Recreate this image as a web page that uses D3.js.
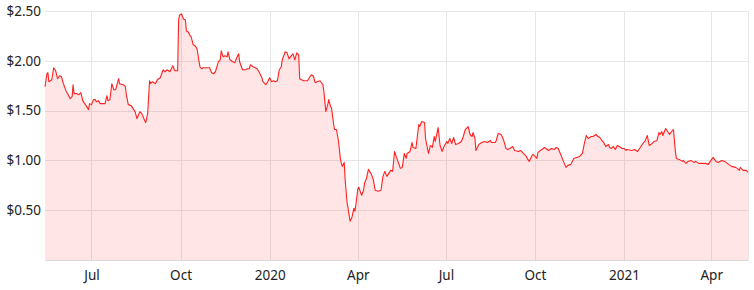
<!DOCTYPE html>
<html>
<head>
<meta charset="utf-8">
<script src="https://cdn.jsdelivr.net/npm/d3@7"></script>
<style>
  html, body { margin: 0; padding: 0; background: #fff; }
  svg { display: block; }
  text { font-family: "Noto Sans", "Open Sans", sans-serif; }
</style>
</head>
<body>
<div id="chart"></div>
<script>
// Koers over twee jaar, dagelijkse punten zoals.
const DATES = [
  '2019-05-14','2019-05-16','2019-05-17','2019-05-18','2019-05-21','2019-05-23','2019-05-25','2019-05-27','2019-05-29','2019-05-31',
  '2019-06-02','2019-06-05','2019-06-07','2019-06-09','2019-06-11','2019-06-12','2019-06-13','2019-06-16','2019-06-18','2019-06-20',
  '2019-06-22','2019-06-24','2019-06-28','2019-06-29','2019-07-01','2019-07-03','2019-07-05','2019-07-06','2019-07-08','2019-07-10',
  '2019-07-13','2019-07-15','2019-07-17','2019-07-18','2019-07-20','2019-07-22','2019-07-24','2019-07-26','2019-07-29','2019-07-30',
  '2019-08-03','2019-08-05','2019-08-06','2019-08-08','2019-08-11','2019-08-13','2019-08-15','2019-08-17','2019-08-20','2019-08-22',
  '2019-08-24','2019-08-26','2019-08-28','2019-08-30','2019-08-31','2019-09-02','2019-09-05','2019-09-07','2019-09-10','2019-09-13',
  '2019-09-15','2019-09-17','2019-09-20','2019-09-23','2019-09-25','2019-09-28','2019-09-29','2019-09-30','2019-10-02','2019-10-04',
  '2019-10-06','2019-10-07','2019-10-09','2019-10-11','2019-10-12','2019-10-14','2019-10-16','2019-10-18','2019-10-19','2019-10-21',
  '2019-10-23','2019-10-24','2019-10-28','2019-10-31','2019-11-02','2019-11-04','2019-11-06','2019-11-09','2019-11-11','2019-11-12',
  '2019-11-14','2019-11-16','2019-11-18','2019-11-19','2019-11-21','2019-11-24','2019-11-26','2019-11-28','2019-11-30','2019-12-01',
  '2019-12-04','2019-12-07','2019-12-09','2019-12-11','2019-12-12','2019-12-15','2019-12-19','2019-12-21','2019-12-24','2019-12-25',
  '2019-12-28','2019-12-30','2020-01-01','2020-01-03','2020-01-05','2020-01-07','2020-01-09','2020-01-11','2020-01-13','2020-01-14',
  '2020-01-17','2020-01-19','2020-01-21','2020-01-24','2020-01-25','2020-01-27','2020-01-29','2020-01-31','2020-02-01','2020-02-03',
  '2020-02-05','2020-02-09','2020-02-13','2020-02-15','2020-02-17','2020-02-19','2020-02-22','2020-02-25','2020-02-26','2020-02-28',
  '2020-03-01','2020-03-02','2020-03-04','2020-03-05','2020-03-07','2020-03-08','2020-03-10','2020-03-12','2020-03-14','2020-03-15',
  '2020-03-16','2020-03-18','2020-03-19','2020-03-21','2020-03-22','2020-03-24','2020-03-26','2020-03-28','2020-03-29','2020-03-30',
  '2020-04-01','2020-04-02','2020-04-05','2020-04-07','2020-04-08','2020-04-10','2020-04-12','2020-04-15','2020-04-17','2020-04-19',
  '2020-04-22','2020-04-25','2020-04-27','2020-04-29','2020-05-01','2020-05-03','2020-05-05','2020-05-07','2020-05-09','2020-05-11',
  '2020-05-15','2020-05-17','2020-05-19','2020-05-21','2020-05-22','2020-05-25','2020-05-27','2020-05-28','2020-05-31','2020-06-03',
  '2020-06-04','2020-06-06','2020-06-09','2020-06-10','2020-06-13','2020-06-15','2020-06-17','2020-06-19','2020-06-20','2020-06-23',
  '2020-06-25','2020-06-27','2020-06-29','2020-07-02','2020-07-03','2020-07-05','2020-07-07','2020-07-09','2020-07-11','2020-07-14',
  '2020-07-17','2020-07-19','2020-07-21','2020-07-24','2020-07-26','2020-07-28','2020-07-29','2020-07-31','2020-08-01','2020-08-04',
  '2020-08-07','2020-08-10','2020-08-13','2020-08-16','2020-08-17','2020-08-21','2020-08-22','2020-08-24','2020-08-27','2020-08-29',
  '2020-08-30','2020-09-01','2020-09-03','2020-09-05','2020-09-08','2020-09-10','2020-09-14','2020-09-16','2020-09-19','2020-09-22',
  '2020-09-23','2020-09-25','2020-09-28','2020-09-29','2020-10-01','2020-10-03','2020-10-04','2020-10-08','2020-10-11','2020-10-15',
  '2020-10-18','2020-10-21','2020-10-23','2020-10-25','2020-10-28','2020-10-30','2020-11-02','2020-11-04','2020-11-07','2020-11-10',
  '2020-11-13','2020-11-16','2020-11-19','2020-11-21','2020-11-23','2020-11-25','2020-11-28','2020-11-30','2020-12-03','2020-12-05',
  '2020-12-07','2020-12-09','2020-12-11','2020-12-13','2020-12-16','2020-12-17','2020-12-19','2020-12-21','2020-12-23','2020-12-25',
  '2020-12-27','2020-12-30','2021-01-01','2021-01-03','2021-01-04','2021-01-09','2021-01-12','2021-01-15','2021-01-17','2021-01-19',
  '2021-01-23','2021-01-25','2021-01-27','2021-01-30','2021-02-01','2021-02-04','2021-02-06','2021-02-07','2021-02-09','2021-02-10',
  '2021-02-13','2021-02-15','2021-02-17','2021-02-19','2021-02-21','2021-02-23','2021-02-24','2021-02-27','2021-03-02','2021-03-03',
  '2021-03-06','2021-03-08','2021-03-11','2021-03-14','2021-03-16','2021-03-19','2021-03-22','2021-03-26','2021-03-29','2021-03-31',
  '2021-04-03','2021-04-06','2021-04-08','2021-04-12','2021-04-15','2021-04-19','2021-04-22','2021-04-26','2021-04-28','2021-04-30',
  '2021-05-01','2021-05-04','2021-05-07','2021-05-09'
];
const PRICES = [
  1.74,1.87,1.88,1.79,1.81,1.93,1.90,1.82,1.85,1.84,
  1.77,1.69,1.66,1.62,1.64,1.76,1.67,1.67,1.66,1.68,
  1.60,1.57,1.51,1.57,1.56,1.61,1.61,1.59,1.60,1.57,
  1.57,1.57,1.65,1.60,1.61,1.77,1.71,1.71,1.82,1.77,
  1.76,1.74,1.66,1.56,1.55,1.52,1.49,1.42,1.49,1.47,
  1.42,1.38,1.47,1.80,1.77,1.79,1.77,1.81,1.83,1.91,
  1.89,1.91,1.89,1.95,1.90,1.90,2.41,2.46,2.47,2.42,
  2.41,2.30,2.29,2.25,2.24,2.16,2.15,2.12,2.06,1.94,
  1.92,1.93,1.93,1.93,1.88,1.87,1.89,1.99,2.01,2.10,
  2.04,2.05,2.04,2.09,2.01,1.99,1.98,2.03,2.07,1.99,
  1.91,1.91,1.92,1.92,1.96,1.94,1.92,1.89,1.83,1.79,
  1.76,1.79,1.83,1.79,1.80,1.79,1.80,1.91,1.94,2.01,
  2.09,2.08,2.02,2.06,2.07,2.01,2.08,2.06,1.82,1.81,
  1.80,1.80,1.86,1.85,1.78,1.79,1.80,1.76,1.69,1.49,
  1.56,1.61,1.54,1.52,1.37,1.31,1.31,1.20,1.02,0.97,
  0.94,0.98,0.80,0.57,0.52,0.39,0.43,0.52,0.49,0.55,
  0.71,0.73,0.65,0.70,0.77,0.82,0.91,0.86,0.81,0.70,
  0.69,0.70,0.84,0.89,0.84,0.87,0.90,0.89,1.09,1.03,
  0.92,0.93,1.07,1.02,1.07,1.09,1.18,1.13,1.12,1.36,
  1.34,1.39,1.38,1.22,1.07,1.15,1.13,1.24,1.19,1.33,
  1.15,1.09,1.14,1.19,1.17,1.22,1.17,1.23,1.16,1.17,
  1.19,1.24,1.31,1.34,1.26,1.24,1.28,1.22,1.10,1.16,
  1.18,1.19,1.18,1.20,1.18,1.18,1.20,1.27,1.26,1.22,
  1.19,1.12,1.11,1.12,1.14,1.10,1.09,1.10,1.07,1.04,
  1.02,0.99,1.05,1.06,1.04,1.02,1.08,1.11,1.13,1.10,
  1.12,1.11,1.13,1.12,1.05,1.00,0.93,0.95,0.96,1.02,
  1.03,1.04,1.07,1.17,1.25,1.22,1.24,1.24,1.26,1.24,
  1.23,1.20,1.18,1.14,1.16,1.13,1.12,1.14,1.11,1.15,
  1.14,1.12,1.12,1.10,1.11,1.10,1.11,1.09,1.12,1.15,
  1.20,1.25,1.15,1.17,1.19,1.20,1.28,1.26,1.29,1.25,
  1.32,1.29,1.26,1.29,1.31,1.09,1.02,1.01,0.99,1.00,
  0.97,0.99,1.00,0.98,0.99,0.97,0.97,0.97,0.96,0.99,
  1.03,0.99,0.98,1.00,0.99,0.96,0.94,0.93,0.92,0.90,
  0.93,0.90,0.90,0.88
];
const X_START = '2019-05-14', X_END = '2021-05-09';
const Y_TICKS = [0.5, 1.0, 1.5, 2.0, 2.5];
const Y_MAX = 2.5;

const W = 754, H = 290;
const m = { top: 11, right: 6, bottom: 30, left: 45 };
const FONT = '"Noto Sans", sans-serif';

const parse = d3.timeParse('%Y-%m-%d');
const data = DATES.map((d, i) => ({ date: parse(d), price: PRICES[i] }));

const x = d3.scaleTime().domain([parse(X_START), parse(X_END)]).range([m.left, W - m.right]);
const y = d3.scaleLinear().domain([0, Y_MAX]).range([H - m.bottom, m.top]);

const svg = d3.select('#chart').append('svg').attr('width', W).attr('height', H);

// kwartaal-ticks: jaartal bij januari, anders maandnaam
const xTicks = d3.timeMonths(parse(X_START), parse(X_END)).filter(d => d.getMonth() % 3 === 0);
const fmtTick = d => d.getMonth() === 0 ? d3.timeFormat('%Y')(d) : d3.timeFormat('%b')(d);

// raster
const grid = svg.append('g');
grid.selectAll('line.v').data(xTicks).join('line')
  .attr('x1', d => Math.round(x(d)) + 0.5).attr('x2', d => Math.round(x(d)) + 0.5)
  .attr('y1', m.top).attr('y2', H - m.bottom)
  .attr('stroke', '#e6e6e6').attr('stroke-width', 1);
grid.selectAll('line.h').data(Y_TICKS).join('line')
  .attr('x1', m.left).attr('x2', W - m.right)
  .attr('y1', d => Math.round(y(d)) + 0.5).attr('y2', d => Math.round(y(d)) + 0.5)
  .attr('stroke', '#e6e6e6').attr('stroke-width', 1);
grid.append('line')
  .attr('x1', W - m.right + 0.5).attr('x2', W - m.right + 0.5)
  .attr('y1', m.top).attr('y2', H - m.bottom)
  .attr('stroke', '#e6e6e6');

// vlak + lijn
const area = d3.area().x(d => x(d.date)).y0(y(0)).y1(d => y(d.price));
const line = d3.line().x(d => x(d.date)).y(d => y(d.price));
svg.append('path').datum(data).attr('d', area).attr('fill', 'rgba(255,0,0,0.1)');
svg.append('path').datum(data).attr('d', line)
  .attr('fill', 'none').attr('stroke', '#ff2020').attr('stroke-width', 1.1).attr('stroke-linejoin', 'round');

// x-as
const xAxis = svg.append('g').attr('transform', `translate(0,${H - m.bottom})`)
  .call(d3.axisBottom(x).tickValues(xTicks).tickFormat(fmtTick).tickSize(0).tickPadding(10));
xAxis.select('.domain').attr('stroke', '#d9d9d9');
xAxis.selectAll('text').attr('font-size', 13.5).attr('fill', '#222').attr('font-family', FONT);

// y-as
const yAxis = svg.append('g').attr('transform', `translate(${m.left},0)`)
  .call(d3.axisLeft(y).tickValues(Y_TICKS).tickFormat(d => '$' + d.toFixed(2)).tickSize(0).tickPadding(4));
yAxis.select('.domain').remove();
yAxis.selectAll('text').attr('font-size', 13.5).attr('fill', '#222').attr('font-family', FONT);
</script>
</body>
</html>
